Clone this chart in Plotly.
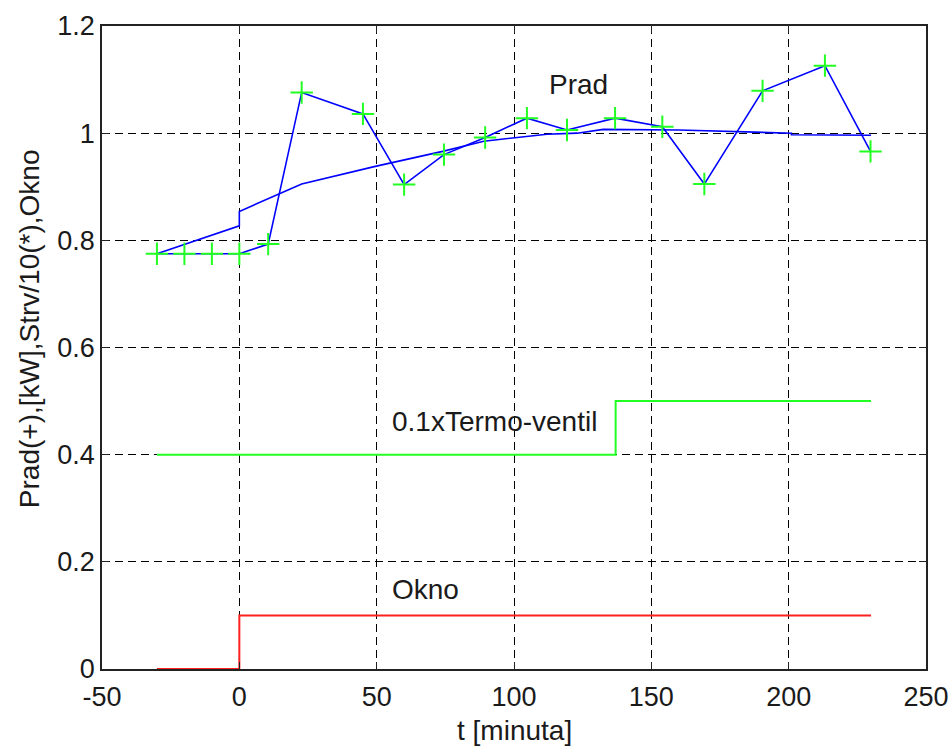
import plotly.graph_objects as go

# ---- data ----
t_meas = [-30, -20, -10, 0, 10.5, 22.7, 45, 60, 74.5, 89.5, 104.7, 119.3, 136.8, 154, 169.3, 190.5, 213.2, 229.8]
p_meas = [0.775, 0.775, 0.775, 0.775, 0.793, 1.076, 1.036, 0.904, 0.960, 0.992, 1.028, 1.006, 1.028, 1.012, 0.905, 1.079, 1.126, 0.966]

t_model = [-30, -16, 0, 0, 15, 22.7, 49.5, 74, 89, 100, 112, 123, 132.5, 160, 179, 201, 201, 230]
p_model = [0.775, 0.799, 0.827, 0.854, 0.888, 0.905, 0.938, 0.966, 0.985, 0.991, 0.998, 1.0, 1.007, 1.006, 1.003, 1.0, 0.997, 0.996]

t_valve = [-30, 137, 230]
valve_scaled = [0.4, 0.5, 0.5]

t_window = [-30, 0, 230]
window = [0, 0.1, 0.1]

x_ticks = [-50, 0, 50, 100, 150, 200, 250]
y_ticks = [0, 0.2, 0.4, 0.6, 0.8, 1.0, 1.2]
y_ticklabels = ["0", "0.2", "0.4", "0.6", "0.8", "1", "1.2"]

FONT = "Liberation Sans, Arial, sans-serif"
TXT = "#1a1a1a"

fig = go.Figure()

fig.add_trace(go.Scatter(x=t_window, y=window, mode="lines", line_shape="hv",
                         line=dict(color="#ff2020", width=2), showlegend=False))
fig.add_trace(go.Scatter(x=t_valve, y=valve_scaled, mode="lines", line_shape="hv",
                         line=dict(color="#22ff22", width=2), showlegend=False))
fig.add_trace(go.Scatter(x=t_model, y=p_model, mode="lines",
                         line=dict(color="#0000ff", width=1.6), showlegend=False))
fig.add_trace(go.Scatter(x=t_meas, y=p_meas, mode="lines+markers",
                         line=dict(color="#0000ff", width=1.6),
                         marker=dict(symbol="cross-thin", size=16, color="#22ff22",
                                     line=dict(color="#22ff22", width=2)),
                         showlegend=False))

axis_common = dict(
    showline=True, linecolor="#222222", linewidth=1.5, mirror="ticks",
    ticks="inside", ticklen=7, tickwidth=1.2, tickcolor="#222222",
    showgrid=True, gridcolor="#000000", gridwidth=1, griddash="8px,5px",
    zeroline=False, automargin=False,
    tickfont=dict(family=FONT, size=27, color=TXT),
)

fig.update_xaxes(range=[-50, 250], tickvals=x_ticks, ticktext=[str(v) for v in x_ticks],
                 ticklabelstandoff=3, **axis_common)
fig.update_yaxes(range=[0, 1.2], tickvals=y_ticks, ticktext=y_ticklabels, **axis_common)

annots = [
    dict(x=112, y=1.091, xref="x", yref="y", text="Prad", xanchor="left", yanchor="middle"),
    dict(x=55, y=0.462, xref="x", yref="y", text="0.1xTermo-ventil", xanchor="left", yanchor="middle"),
    dict(x=55, y=0.148, xref="x", yref="y", text="Okno", xanchor="left", yanchor="middle"),
    dict(x=0.5, y=-0.0955, xref="paper", yref="paper", text="t [minuta]", xanchor="center", yanchor="middle"),
    dict(x=-0.087, y=0.529, xref="paper", yref="paper", text="Prad(+),[kW],Strv/10(*),Okno",
         textangle=-90, xanchor="center", yanchor="middle"),
]
for a in annots:
    a.update(showarrow=False, font=dict(family=FONT, size=28, color=TXT))
fig.update_layout(annotations=annots)

fig.update_layout(
    width=949, height=751,
    margin=dict(l=102, r=23, t=26, b=82, autoexpand=False),
    paper_bgcolor="white", plot_bgcolor="white",
    font=dict(family=FONT, color=TXT),
)

fig.write_html("out.html")
